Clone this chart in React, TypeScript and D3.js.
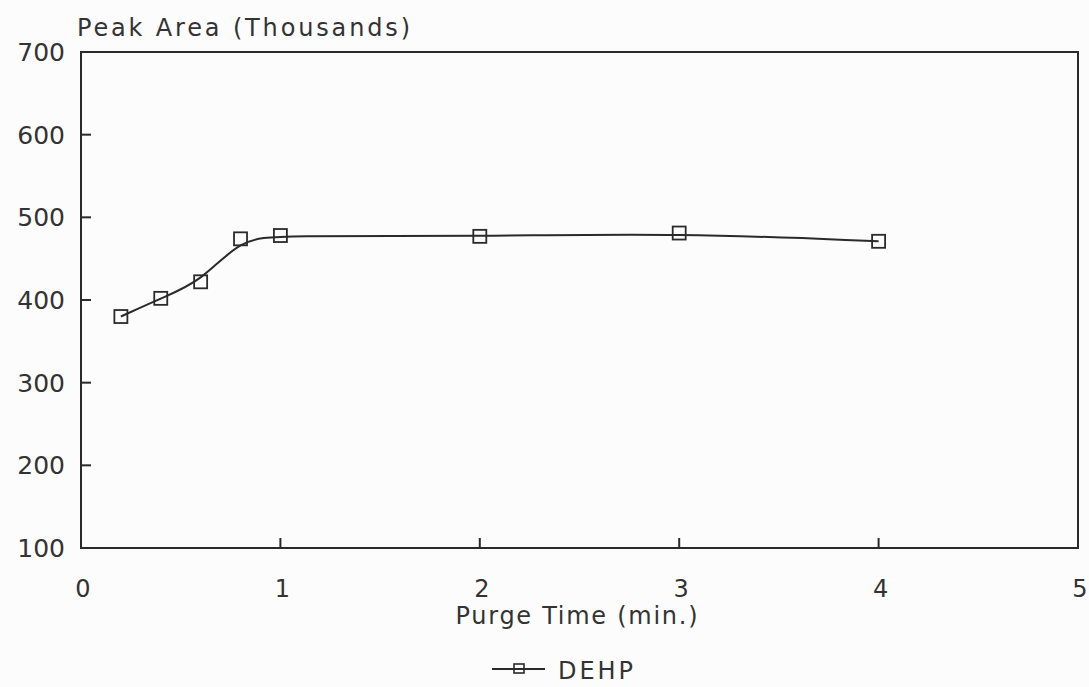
import React from "react";
import * as d3 from "d3";

// Purge time (min.) and DEHP peak area (thousands)
const purgeTimes = [0.2, 0.4, 0.6, 0.8, 1, 2, 3, 4];
const peakAreas = [380, 402, 422, 474, 478, 477, 481, 471];
const xTicks = [0, 1, 2, 3, 4, 5];
const yTicks = [100, 200, 300, 400, 500, 600, 700];
const seriesName = "DEHP";

const W = 1089;
const H = 687;
const M = { left: 81, right: 1078, top: 52, bottom: 548 };
const INK = "#2a2a2a";
const TXT = "#333";
const FONT = "'DejaVu Sans', 'Liberation Sans', sans-serif";

export default function App() {
  const x = d3.scaleLinear().domain([0, 5]).range([M.left, M.right]);
  const y = d3.scaleLinear().domain([100, 700]).range([M.bottom, M.top]);

  const pts: [number, number][] = purgeTimes.map((t, i) => [t, peakAreas[i]]);
  const line = d3
    .line<[number, number]>()
    .x((d) => x(d[0]))
    .y((d) => y(d[1]))
    .curve(d3.curveBasis);

  const sq = 13;

  return (
    <svg
      width={W}
      height={H}
      style={{ position: "absolute", left: 0, top: 0, background: "#fcfcfc" }}
    >
      {/* axis titles */}
      <text
        x={77}
        y={36}
        fontFamily={FONT}
        fontSize={24}
        fill={TXT}
        textLength={333}
        lengthAdjust="spacing"
      >
        Peak Area (Thousands)
      </text>

      {/* plot frame */}
      <rect
        x={M.left}
        y={M.top}
        width={M.right - M.left}
        height={M.bottom - M.top}
        fill="none"
        stroke={INK}
        strokeWidth={2}
      />

      {/* y ticks and labels */}
      {yTicks.map((v) => (
        <g key={`y${v}`}>
          <line x1={M.left} x2={M.left + 10} y1={y(v)} y2={y(v)} stroke={INK} strokeWidth={2} />
          <text
            x={65}
            y={y(v)}
            dy="0.36em"
            textAnchor="end"
            fontFamily={FONT}
            fontSize={25}
            fill={TXT}
          >
            {v}
          </text>
        </g>
      ))}

      {/* x ticks and labels */}
      {xTicks.map((v) => (
        <g key={`x${v}`}>
          <line x1={x(v)} x2={x(v)} y1={M.bottom} y2={M.bottom - 10} stroke={INK} strokeWidth={2} />
          <text
            x={x(v) + 2}
            y={588}
            dy="0.36em"
            textAnchor="middle"
            fontFamily={FONT}
            fontSize={24}
            fill={TXT}
          >
            {v}
          </text>
        </g>
      ))}

      <text
        x={(M.left + M.right) / 2 - 3}
        y={624}
        textAnchor="middle"
        fontFamily={FONT}
        fontSize={24}
        fill={TXT}
        textLength={242}
        lengthAdjust="spacing"
      >
        Purge Time (min.)
      </text>

      {/* data line and markers */}
      <path d={line(pts) || ""} fill="none" stroke={INK} strokeWidth={2} />
      {pts.map((d, i) => (
        <rect
          key={`m${i}`}
          x={x(d[0]) - sq / 2}
          y={y(d[1]) - sq / 2}
          width={sq}
          height={sq}
          fill="none"
          stroke={INK}
          strokeWidth={1.8}
        />
      ))}

      {/* legend */}
      <line x1={492} x2={545} y1={669} y2={669} stroke={INK} strokeWidth={2} />
      <rect x={514} y={664} width={10} height={9} fill="none" stroke={INK} strokeWidth={1.6} />
      <text
        x={558}
        y={679}
        fontFamily={FONT}
        fontSize={24}
        fill={TXT}
        textLength={75}
        lengthAdjust="spacing"
      >
        {seriesName}
      </text>
    </svg>
  );
}
